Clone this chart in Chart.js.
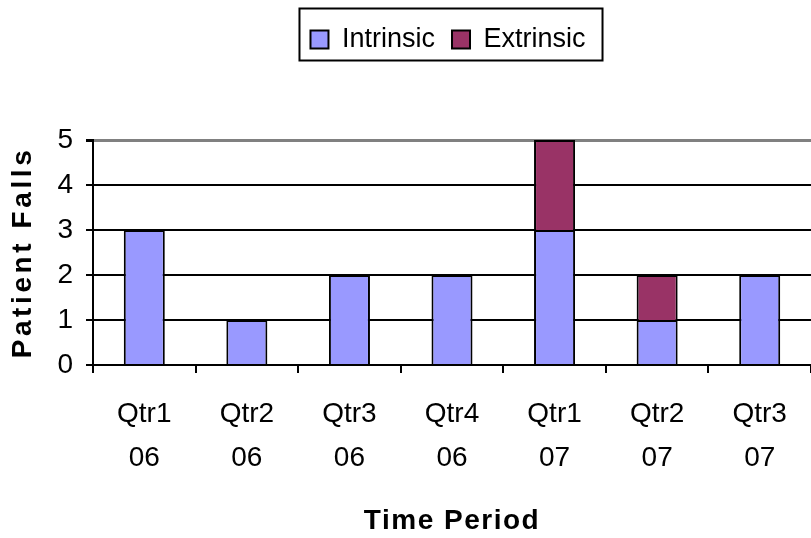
<!DOCTYPE html>
<html>
<head>
<meta charset="utf-8">
<script src="https://cdn.jsdelivr.net/npm/chart.js@4.4.1/dist/chart.umd.min.js"></script>
<style>
  html, body { margin: 0; padding: 0; background: #ffffff; overflow: hidden; }
  #wrap { width: 811px; height: 538px; }
</style>
</head>
<body>
<div id="wrap"><canvas id="chart" width="811" height="538"></canvas></div>
<script>
// Quarterly patient falls, split by cause
const categories = [
  ['Qtr1', '06'], ['Qtr2', '06'], ['Qtr3', '06'], ['Qtr4', '06'],
  ['Qtr1', '07'], ['Qtr2', '07'], ['Qtr3', '07']
];
const intrinsicFalls = [3, 1, 2, 2, 3, 1, 2];
const extrinsicFalls = [null, null, null, null, 2, 1, null];
const yTickValues = [0, 1, 2, 3, 4, 5];
const seriesNames = ['Intrinsic', 'Extrinsic'];
const axisTitles = { x: 'Time Period', y: 'Patient Falls' };

const FONT = '"Liberation Sans", Arial, Helvetica, sans-serif';
const titleLetterSpacing = { x: '1.5px', y: '3.6px' };
const LEGEND_BLOCK_HEIGHT = 131;
const LEGEND_SHIFT_X = -4;

// Gives the legend a taller block so the plot starts lower on the page
const tallLegend = {
  id: 'tallLegend',
  afterInit(chart) {
    const lg = chart.legend;
    if (!lg || lg._tall) return;
    const origFit = lg.fit;
    lg.fit = function (...args) {
      origFit.apply(this, args);
      this.height = LEGEND_BLOCK_HEIGHT;
    };
    lg._tall = true;
  },
  afterLayout(chart) {
    const lg = chart.legend;
    if (!lg) return;
    lg.left += LEGEND_SHIFT_X;
    lg.right += LEGEND_SHIFT_X;
  }
};

// Adds spacing between the letters of the axis titles
const spacedTitles = {
  id: 'spacedTitles',
  beforeDraw(chart) {
    for (const [id, sp] of Object.entries(titleLetterSpacing)) {
      const scale = chart.scales[id];
      if (!scale || scale._spacedTitle) continue;
      const orig = scale.drawTitle;
      scale.drawTitle = function (...args) {
        const ctx = this.ctx;
        ctx.save();
        ctx.letterSpacing = sp;
        orig.apply(this, args);
        ctx.restore();
      };
      scale._spacedTitle = true;
    }
  }
};

// Frame around the legend items
const legendFrame = {
  id: 'legendFrame',
  afterDraw(chart) {
    const lg = chart.legend;
    if (!lg || !lg.legendHitBoxes || !lg.legendHitBoxes.length) return;
    const hb = lg.legendHitBoxes;
    const first = hb[0], last = hb[hb.length - 1];
    const left = first.left - 11;
    const right = last.left + last.width + 17;
    const cy = first.top + first.height / 2;
    const top = cy - 31;
    const bottom = cy + 21;
    const ctx = chart.ctx;
    ctx.save();
    ctx.strokeStyle = '#000000';
    ctx.lineWidth = 2;
    ctx.strokeRect(left, top, right - left, bottom - top);
    ctx.restore();
  }
};

new Chart(document.getElementById('chart'), {
  type: 'bar',
  data: {
    labels: categories,
    datasets: [
      {
        label: seriesNames[0],
        data: intrinsicFalls,
        backgroundColor: '#9999ff',
        borderColor: '#000000',
        borderWidth: 2,
        borderSkipped: 'start',
        categoryPercentage: 1.0,
        barPercentage: 0.4
      },
      {
        label: seriesNames[1],
        data: extrinsicFalls,
        backgroundColor: '#993366',
        borderColor: '#000000',
        borderWidth: 2,
        borderSkipped: 'start',
        categoryPercentage: 1.0,
        barPercentage: 0.4
      }
    ]
  },
  options: {
    responsive: false,
    animation: false,
    devicePixelRatio: 1,
    layout: { padding: { top: 1, left: 0, right: 0, bottom: 0 } },
    plugins: {
      tooltip: { enabled: false },
      title: { display: false },
      legend: {
        display: true,
        position: 'top',
        fullSize: false,
        align: 'center',
        labels: {
          color: '#000000',
          font: { family: FONT, size: 27 },
          boxWidth: 18,
          boxHeight: 18,
          padding: 17
        }
      }
    },
    scales: {
      x: {
        stacked: true,
        offset: true,
        grid: {
          display: true,
          drawOnChartArea: false,
          drawTicks: true,
          tickLength: 8,
          tickColor: '#000000',
          lineWidth: 2,
          offset: true
        },
        border: { display: true, color: '#000000', width: 2 },
        ticks: {
          color: '#000000',
          font: { family: FONT, size: 28, lineHeight: 1.57 },
          padding: 19,
          maxRotation: 0,
          autoSkip: false
        },
        title: {
          display: true,
          text: axisTitles.x,
          color: '#000000',
          font: { family: FONT, size: 28, weight: 'bold', lineHeight: 1.2 },
          padding: { top: 0, bottom: 0 }
        },
        afterFit(scale) { scale.height = 173; }
      },
      y: {
        stacked: true,
        min: yTickValues[0],
        max: yTickValues[yTickValues.length - 1],
        ticks: {
          stepSize: yTickValues[1] - yTickValues[0],
          color: '#000000',
          font: { family: FONT, size: 28 },
          padding: 13
        },
        grid: {
          display: true,
          drawOnChartArea: true,
          drawTicks: true,
          tickLength: 7,
          tickColor: '#000000',
          color: (c) => (c.tick && c.tick.value === yTickValues[yTickValues.length - 1]) ? '#808080' : '#000000',
          lineWidth: (c) => (c.tick && c.tick.value === yTickValues[yTickValues.length - 1]) ? 3 : 2
        },
        border: { display: true, color: '#000000', width: 2 },
        title: {
          display: true,
          text: axisTitles.y,
          color: '#000000',
          font: { family: FONT, size: 28, weight: 'bold', lineHeight: 1.2 },
          padding: { top: 6, bottom: 0 }
        },
        afterFit(scale) {
          scale.width = 93;
          scale.paddingTop = 140;
        }
      }
    }
  },
  plugins: [tallLegend, spacedTitles, legendFrame]
});
</script>
</body>
</html>
